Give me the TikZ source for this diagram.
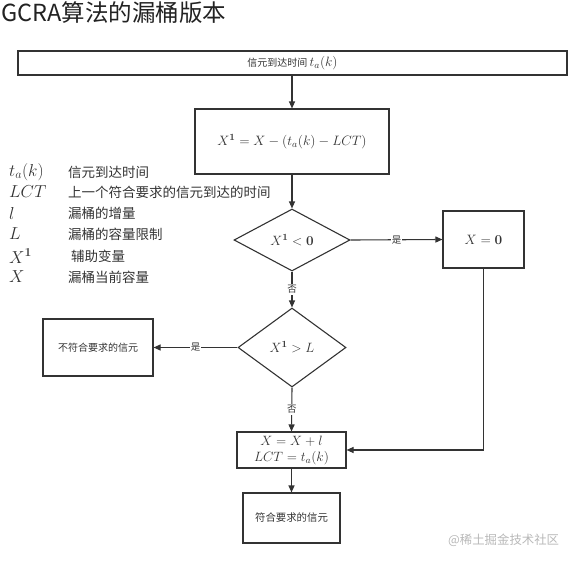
\RequirePackage{fix-cm}
\documentclass[tikz,border=0pt]{standalone}
\usepackage[no-math]{fontspec}
\setmainfont{Noto Sans CJK SC}
\usepackage{amsmath}
\usetikzlibrary{arrows.meta,shapes.geometric,positioning}
\definecolor{linec}{HTML}{333333}
\definecolor{titlec}{HTML}{222222}
\definecolor{markc}{HTML}{B8B8B8}

\begin{document}
\begin{tikzpicture}[x=1pt, y=-1pt,
  box/.style={draw=linec, rectangle, line width=1.1pt, inner sep=0pt, align=center,
              text=linec, font=\fontsize{10}{12}\selectfont},
  cond/.style={draw=linec, diamond, aspect=2, line width=1.1pt, inner sep=0pt,
               text=linec, font=\fontsize{13.5}{15}\selectfont},
  flow/.style={-{Triangle[length=7pt, width=6pt]}, line width=1.1pt, linec},
  yesno/.style={fill=white, inner sep=1pt, text=linec, font=\fontsize{9.5}{11}\selectfont},
  legsym/.style={anchor=west, inner sep=0pt, text=linec, font=\fontsize{17.3}{19}\selectfont},
  legtxt/.style={anchor=west, inner sep=0pt, text=linec, font=\fontsize{13.5}{15}\selectfont},
]
\useasboundingbox (0,0) rectangle (573,562);

% title
\node[anchor=west, inner sep=0pt, text=titlec, font=\fontsize{23.5}{26}\selectfont] (title) at (1,13)
  {GCRA算法的漏桶版本};

% main column
\node[box, minimum width=549pt, minimum height=24pt] (arrive) at (292.5,63)
  {信元到达时间 {\fontsize{13.5}{14}\selectfont$t_a(k)$}};
\node[box, minimum width=194pt, minimum height=65pt, font=\fontsize{13.6}{15}\selectfont] (calc) at (292,141.5)
  {$X^{\mathbf{1}} = X - (t_a(k) - LCT)$};
\node[cond, minimum width=116pt, minimum height=62pt] (under) at (292,240)
  {$X^{\mathbf{1}} < \mathbf{0}$};
\node[box, minimum width=81pt, minimum height=57pt, font=\fontsize{13.6}{15}\selectfont] (reset) at (483.5,239.5)
  {$X = \mathbf{0}$};
\node[cond, minimum width=108pt, minimum height=79pt] (over) at (292,347.5)
  {$X^{\mathbf{1}} > L$};
\node[box, minimum width=110pt, minimum height=57pt] (reject) at (98,347.5)
  {不符合要求的信元};
\node[box, minimum width=109pt, minimum height=36pt, font=\fontsize{13.5}{16}\selectfont] (update) at (291.5,450)
  {$X = X + l$\\$LCT = t_a(k)$};
\node[box, minimum width=97pt, minimum height=50pt, font=\fontsize{10.4}{12}\selectfont] (accept) at (291.5,518)
  {符合要求的信元};

% connectors
\draw[flow] (calc.north |- arrive.south) -- (calc.north);
\draw[flow] (calc.south) -- (under.north);
\draw[flow] (under.east) -- node[yesno] {是} (reset.west);
\draw[flow] (under.south) -- node[yesno] {否} (over.north);
\draw[flow] (over.west) -- node[yesno] {是} (reject.east);
\draw[flow] (over.south) -- node[yesno] {否} (update.north);
\draw[flow] (reset.south) |- (update.east);
\draw[flow] (update.south) -- (accept.north);

% legend
\node[legsym] (s1) at (9,172) {$t_a(k)$};
\node[legtxt] (d1) at (68,172) {信元到达时间};
\node[legsym] (s2) at (9,192) {$LCT$};
\node[legtxt] (d2) at (68,192) {上一个符合要求的信元到达的时间};
\node[legsym] (s3) at (9,213) {$l$};
\node[legtxt] (d3) at (68,213) {漏桶的增量};
\node[legsym] (s4) at (9,234) {$L$};
\node[legtxt] (d4) at (68,234) {漏桶的容量限制};
\node[legsym] (s5) at (9,256) {$X^{\mathbf{1}}$};
\node[legtxt] (d5) at (71,256) {辅助变量};
\node[legsym] (s6) at (9,277) {$X$};
\node[legtxt] (d6) at (68,277) {漏桶当前容量};

% watermark
\node[anchor=west, inner sep=0pt, text=markc, font=\fontsize{12.4}{14}\selectfont] (mark) at (448,540)
  {@稀土掘金技术社区};

\end{tikzpicture}
\end{document}
